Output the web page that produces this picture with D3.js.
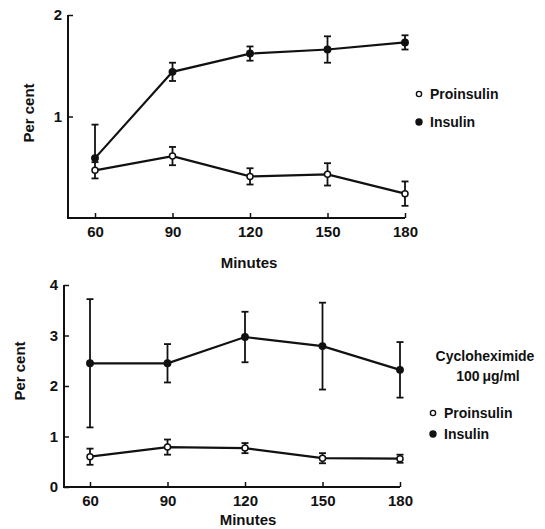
<!DOCTYPE html>
<html>
<head>
<meta charset="utf-8">
<script src="https://cdn.jsdelivr.net/npm/d3@7"></script>
<style>
  body { margin: 0; background: #fff; }
  text { font-family: "Liberation Sans", Arial, sans-serif; font-weight: bold; fill: #111; }
</style>
</head>
<body>
<div id="chart"></div>
<script>
// time points (minutes)
const minutes = [60, 90, 120, 150, 180];

// top panel: control
const topInsulin = [0.59, 1.44, 1.62, 1.66, 1.73];
const topInsulinErrUp = [0.33, 0.09, 0.07, 0.13, 0.07];
const topInsulinErrDown = [0, 0.09, 0.07, 0.13, 0.07];
const topProinsulin = [0.47, 0.61, 0.41, 0.43, 0.24];
const topProinsulinErr = [0.08, 0.09, 0.08, 0.11, 0.12];
const topTicks = [1, 2];

// bottom panel: cycloheximide 100 ug/ml
const botInsulin = [2.45, 2.45, 2.97, 2.79, 2.32];
const botInsulinErr = [1.27, 0.38, 0.5, 0.86, 0.55];
const botProinsulin = [0.6, 0.79, 0.77, 0.57, 0.56];
const botProinsulinErr = [0.16, 0.15, 0.1, 0.1, 0.08];
const botTicks = [0, 1, 2, 3, 4];

const w = 545, h = 529;
const svg = d3.select("#chart").append("svg")
    .attr("width", w)
    .attr("height", h);

function drawPanel(opt) {
    let xScale = d3.scaleLinear().domain([60, 180]).range(opt.xRange);
    let yScale = d3.scaleLinear().domain(opt.yDomain).range(opt.yRange);
    let g = svg.append("g");
    let y0 = yScale(opt.yDomain[0]);

    // axes lines
    g.append("line")
        .attr("x1", opt.axisX).attr("x2", opt.axisX)
        .attr("y1", yScale(opt.yDomain[1])).attr("y2", y0 + 1)
        .attr("stroke", "#111").attr("stroke-width", 2);
    g.append("line")
        .attr("x1", opt.axisX).attr("x2", xScale(180))
        .attr("y1", y0).attr("y2", y0)
        .attr("stroke", "#111").attr("stroke-width", 2);

    // x axis
    let xAxis = d3.axisBottom(xScale)
        .tickValues(minutes)
        .tickSizeInner(-5)
        .tickSizeOuter(0)
        .tickPadding(8);
    let xg = g.append("g")
        .attr("transform", `translate(0, ${y0})`)
        .call(xAxis);
    xg.select(".domain").remove();
    xg.selectAll("line").attr("stroke", "#111").attr("stroke-width", 1.5);
    xg.selectAll("text").attr("font-size", "15px").attr("font-family", null).attr("fill", "#111");

    // y axis
    let yAxis = d3.axisLeft(yScale)
        .tickValues(opt.ticks)
        .tickSizeInner(-5)
        .tickSizeOuter(0)
        .tickPadding(6)
        .tickFormat(d3.format("d"));
    let yg = g.append("g")
        .attr("transform", `translate(${opt.axisX}, 0)`)
        .call(yAxis);
    yg.select(".domain").remove();
    yg.selectAll("line").attr("stroke", "#111").attr("stroke-width", 1.5);
    yg.selectAll("text").attr("font-size", "15px").attr("font-family", null).attr("fill", "#111");

    // axis titles
    g.append("text")
        .attr("x", opt.minutesX).attr("y", opt.minutesY)
        .attr("text-anchor", "middle")
        .attr("font-size", "15px")
        .text("Minutes");
    g.append("text")
        .attr("transform", `translate(${opt.perX}, ${opt.perY}) rotate(-90)`)
        .attr("text-anchor", "middle")
        .attr("dy", "0.35em")
        .attr("font-size", "15px")
        .text("Per cent");

    let line = d3.line()
        .x((d, i) => xScale(minutes[i]))
        .y(d => yScale(d));

    opt.series.forEach(s => {
        g.append("path")
            .datum(s.values)
            .attr("fill", "none")
            .attr("stroke", "#111")
            .attr("stroke-width", 2.2)
            .attr("d", line);

        // error bars
        let eb = g.append("g").selectAll("g")
            .data(s.values.map((v, i) => ({ v: v, up: s.errUp[i], down: s.errDown[i], m: minutes[i] })))
            .enter()
            .append("g");
        eb.append("line")
            .attr("x1", d => xScale(d.m)).attr("x2", d => xScale(d.m))
            .attr("y1", d => yScale(d.v + d.up)).attr("y2", d => yScale(d.v - d.down))
            .attr("stroke", "#111").attr("stroke-width", 1.8);
        eb.filter(d => d.up > 0).append("line")
            .attr("x1", d => xScale(d.m) - 3.5).attr("x2", d => xScale(d.m) + 3.5)
            .attr("y1", d => yScale(d.v + d.up)).attr("y2", d => yScale(d.v + d.up))
            .attr("stroke", "#111").attr("stroke-width", 1.8);
        eb.filter(d => d.down > 0).append("line")
            .attr("x1", d => xScale(d.m) - 3.5).attr("x2", d => xScale(d.m) + 3.5)
            .attr("y1", d => yScale(d.v - d.down)).attr("y2", d => yScale(d.v - d.down))
            .attr("stroke", "#111").attr("stroke-width", 1.8);

        g.append("g").selectAll("circle")
            .data(s.values)
            .enter()
            .append("circle")
            .attr("cx", (d, i) => xScale(minutes[i]))
            .attr("cy", d => yScale(d))
            .attr("r", s.open ? 3 : 3.2)
            .attr("fill", s.open ? "#fff" : "#111")
            .attr("stroke", "#111")
            .attr("stroke-width", 1.5);
    });

    // legend
    let legend = g.append("g")
        .selectAll("g")
        .data([{ name: "Proinsulin", open: true }, { name: "Insulin", open: false }])
        .enter()
        .append("g")
        .attr("transform", (d, i) => `translate(${opt.legendX}, ${opt.legendY + i * opt.legendStep})`);
    legend.append("circle")
        .attr("r", d => d.open ? 2.6 : 3)
        .attr("fill", d => d.open ? "#fff" : "#111")
        .attr("stroke", "#111")
        .attr("stroke-width", 1.4);
    legend.append("text")
        .attr("x", 11)
        .attr("dy", "0.36em")
        .attr("font-size", "14px")
        .text(d => d.name);

    return g;
}

drawPanel({
    xRange: [95, 405], yDomain: [0, 2], yRange: [218, 15], axisX: 68, ticks: topTicks,
    minutesX: 249, minutesY: 268, perX: 29, perY: 113,
    legendX: 419, legendY: 94, legendStep: 28,
    series: [
        { values: topProinsulin, errUp: topProinsulinErr, errDown: topProinsulinErr, open: true },
        { values: topInsulin, errUp: topInsulinErrUp, errDown: topInsulinErrDown, open: false }
    ]
});

let bottom = drawPanel({
    xRange: [90, 400], yDomain: [0, 4], yRange: [487, 285], axisX: 64, ticks: botTicks,
    minutesX: 248, minutesY: 525, perX: 20, perY: 371,
    legendX: 433, legendY: 413, legendStep: 21,
    series: [
        { values: botProinsulin, errUp: botProinsulinErr, errDown: botProinsulinErr, open: true },
        { values: botInsulin, errUp: botInsulinErr, errDown: botInsulinErr, open: false }
    ]
});

bottom.append("text")
    .attr("x", 485).attr("y", 361)
    .attr("text-anchor", "middle")
    .attr("font-size", "14px")
    .text("Cycloheximide");
bottom.append("text")
    .attr("x", 488).attr("y", 381)
    .attr("text-anchor", "middle")
    .attr("font-size", "14px")
    .text("100\u2009\u03BCg/ml");
</script>
</body>
</html>
